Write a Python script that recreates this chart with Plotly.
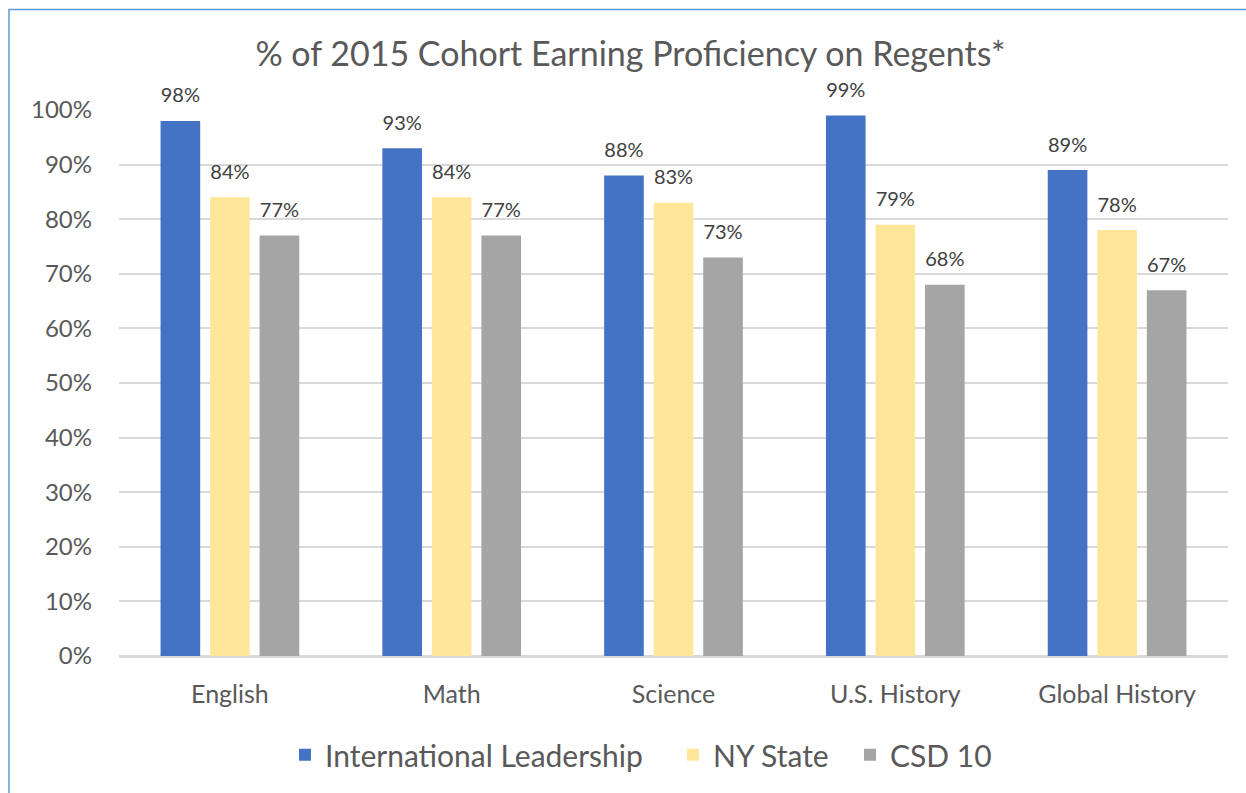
import plotly.graph_objects as go

categories = ["English", "Math", "Science", "U.S. History", "Global History"]
intl_leadership = [0.98, 0.93, 0.88, 0.99, 0.89]
ny_state = [0.84, 0.84, 0.83, 0.79, 0.78]
csd_10 = [0.77, 0.77, 0.73, 0.68, 0.67]
y_ticks = [0, 0.1, 0.2, 0.3, 0.4, 0.5, 0.6, 0.7, 0.8, 0.9, 1.0]
y_tick_labels = ["0%", "10%", "20%", "30%", "40%", "50%", "60%", "70%", "80%", "90%", "100%"]

FONT = "Lato, Open Sans, sans-serif"
TXT = "#595959"

series = [
    ("International Leadership", intl_leadership, "#4472C4"),
    ("NY State", ny_state, "#FFE699"),
    ("CSD 10", csd_10, "#A5A5A5"),
]
legend_ids = ["legend", "legend2", "legend3"]
# text start pixel of each legend entry in the reference
legend_text_px = [326, 714, 891]

fig = go.Figure()
for i, (name, vals, color) in enumerate(series):
    fig.add_trace(go.Bar(
        x=categories, y=vals, name=name, offsetgroup=str(i), legend=legend_ids[i],
        marker=dict(color=color, line=dict(width=0)),
    ))
for i, (name, vals, color) in enumerate(series):
    fig.add_trace(go.Scatter(
        x=categories, y=vals, name=name, offsetgroup=str(i), showlegend=False,
        mode="markers+text", marker=dict(size=20, color="rgba(0,0,0,0)"),
        texttemplate="%{y:.0%}", textposition="top center",
        textfont=dict(family=FONT, size=20, color="#404040"),
        cliponaxis=False, hoverinfo="skip",
    ))

legend_common = dict(orientation="h", xanchor="left", y=-0.181, yanchor="middle",
                     font=dict(family=FONT, size=30, color=TXT), itemwidth=30,
                     bgcolor="rgba(0,0,0,0)")
legends = {}
for lid, px in zip(legend_ids, legend_text_px):
    legends[lid] = dict(x=(px - 41 - 119) / 1109, **legend_common)

fig.update_layout(
    width=1246, height=793,
    paper_bgcolor="white", plot_bgcolor="white",
    margin=dict(l=119, r=18, t=110, b=137),
    barmode="group", bargap=0.33, bargroupgap=0.2,
    scattermode="group", scattergap=0.33,
    title=dict(text="% of 2015 Cohort Earning Proficiency on Regents*",
               x=0.506, xanchor="center", y=1 - 54 / 793, yanchor="middle",
               font=dict(family=FONT, size=34, color=TXT)),
    font=dict(family=FONT, color=TXT),
    showlegend=True,
    **legends,
)
fig.update_xaxes(tickfont=dict(family=FONT, size=25, color=TXT), showline=True,
                 linecolor="#D9D9D9", linewidth=2, ticklabelstandoff=15)
fig.update_yaxes(range=[0, 1.0], tickvals=y_ticks, ticktext=y_tick_labels,
                 tickfont=dict(family=FONT, size=24, color=TXT),
                 gridcolor="#D9D9D9", gridwidth=1.5, zeroline=True,
                 zerolinecolor="#D9D9D9", zerolinewidth=2, ticklabelstandoff=26)

# outer chart frame (partially visible in reference)
x_left = (9 - 119) / 1109
y_top = (656 - 9.5) / 546
fig.add_shape(type="path", xref="paper", yref="paper",
              path=f"M {x_left},-0.4 L {x_left},{y_top} L 1.1,{y_top}",
              line=dict(color="#5B9BD5", width=1.5))

fig.write_html("out.html", config={"displayModeBar": False},
               post_script="document.body.style.margin='0';document.body.style.overflow='hidden';")
